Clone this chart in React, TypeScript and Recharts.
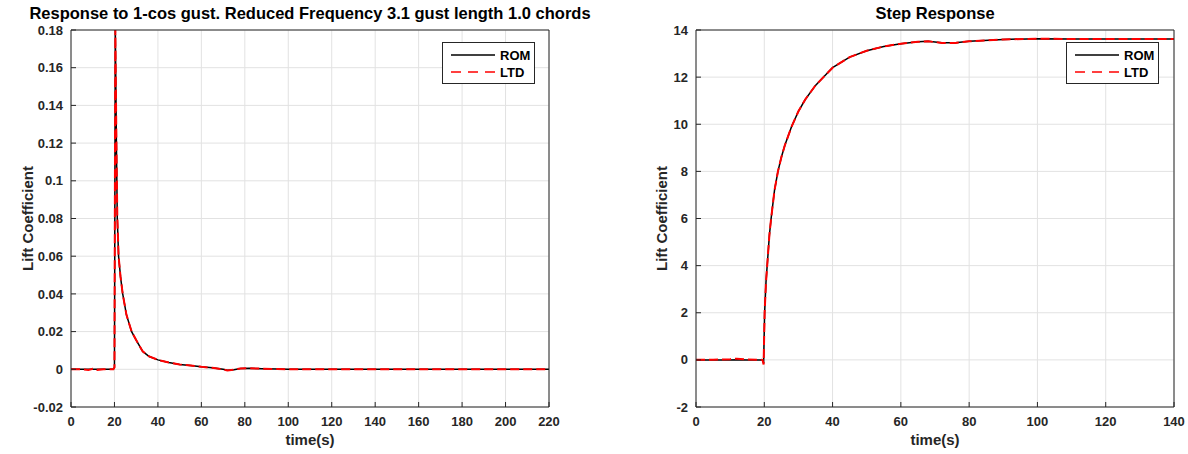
import React from "react";
import { LineChart, Line, XAxis, YAxis, CartesianGrid, Legend } from "recharts";

// gust response (left panel)
const gustTime = [0, 5, 8, 10, 12, 15, 19.5, 20, 20.4, 20.9, 21.3, 21.9, 22.8, 23.8, 25.5, 27.9, 30, 33, 36, 40, 45, 50, 55, 60, 65, 70, 72, 75, 78, 82, 88, 95, 100, 220];
const gustRom = [0, 0, 0, 0, 0, 0, 0, 0.001, 0.18, 0.12, 0.08, 0.06, 0.049, 0.04, 0.029, 0.02, 0.0155, 0.0095, 0.0068, 0.005, 0.0036, 0.0026, 0.002, 0.0013, 0.0008, 0, -0.0005, -0.0002, 0.0004, 0.0006, 0.0003, 0.0001, 0, 0];
const gustLtd = [0, 0, -0.0004, 0.0003, -0.0003, 0, 0, 0.001, 0.18, 0.12, 0.082, 0.06, 0.049, 0.04, 0.029, 0.02, 0.0155, 0.0095, 0.0068, 0.005, 0.0036, 0.0026, 0.002, 0.0013, 0.0008, -0.0001, -0.0006, -0.0002, 0.0004, 0.0006, 0.0003, 0.0001, 0, 0];
const gustXTicks = [0, 20, 40, 60, 80, 100, 120, 140, 160, 180, 200, 220];
const gustYTicks = [-0.02, 0, 0.02, 0.04, 0.06, 0.08, 0.1, 0.12, 0.14, 0.16, 0.18];

// step response (right panel)
const stepTime = [0, 5, 10, 12, 15, 19.5, 19.8, 20.1, 20.5, 21, 21.5, 22, 23, 24, 25, 26, 28, 30, 32, 35, 38, 40, 45, 50, 55, 60, 65, 68, 72, 76, 80, 90, 100, 110, 120, 140];
const stepRom = [0, 0, 0, 0.01, 0, 0, -0.15, 2.0, 3.3, 4.3, 5.3, 6.0, 7.2, 8.0, 8.6, 9.1, 9.9, 10.55, 11.05, 11.65, 12.1, 12.4, 12.85, 13.12, 13.3, 13.42, 13.5, 13.52, 13.46, 13.46, 13.52, 13.6, 13.63, 13.62, 13.62, 13.62];
const stepLtd = [0, 0.01, 0.03, 0.05, 0.02, 0, -0.2, 2.0, 3.3, 4.3, 5.3, 6.0, 7.2, 8.0, 8.6, 9.1, 9.9, 10.55, 11.05, 11.65, 12.1, 12.4, 12.85, 13.12, 13.3, 13.42, 13.5, 13.52, 13.45, 13.45, 13.52, 13.6, 13.63, 13.62, 13.62, 13.62];
const stepXTicks = [0, 20, 40, 60, 80, 100, 120, 140];
const stepYTicks = [-2, 0, 2, 4, 6, 8, 10, 12, 14];

const seriesNames = ["ROM", "LTD"];

const FONT = '"Liberation Sans", Arial, Helvetica, sans-serif';
const INK = "#262626";
const GRID = "#e2e2e2";
const DASH = "9 4";

const fmt = (v: number) => String(Number(v.toFixed(2)));

const LegendBox = () => (
  <svg width={93} height={42} style={{ display: "block" }}>
    <rect x={0.5} y={0.5} width={92} height={41} fill="#fff" stroke={INK} />
    <line x1={9} x2={53} y1={13} y2={13} stroke="#000" strokeWidth={1.5} />
    <line x1={9} x2={53} y1={30} y2={30} stroke="#ff0000" strokeWidth={1.5} strokeDasharray="10 7" />
    <text x={58} y={13} dy="0.36em" fontFamily={FONT} fontWeight="bold" fontSize={13} fill="#000">
      {seriesNames[0]}
    </text>
    <text x={58} y={30} dy="0.36em" fontFamily={FONT} fontWeight="bold" fontSize={13} fill="#000">
      {seriesNames[1]}
    </text>
  </svg>
);

type PanelProps = {
  time: number[];
  rom: number[];
  ltd: number[];
  xTicks: number[];
  yTicks: number[];
  title: string;
  yAxisWidth: number;
  marginRight: number;
  labelDx: number;
  legendLeft: number;
};

const Panel: React.FC<PanelProps> = ({ time, rom, ltd, xTicks, yTicks, title, yAxisWidth, marginRight, labelDx, legendLeft }) => {
  const data = time.map((t, i) => ({ t, rom: rom[i], ltd: ltd[i] }));
  const xDomain = [xTicks[0], xTicks[xTicks.length - 1]];
  const yDomain = [yTicks[0], yTicks[yTicks.length - 1]];
  const tickStyle = { fill: INK, fontSize: 13, fontWeight: "bold", fontFamily: FONT };
  return (
    <LineChart width={594} height={454} data={data} margin={{ top: 30, right: marginRight, bottom: 0, left: 0 }}>
      <CartesianGrid stroke={GRID} />
      <XAxis
        dataKey="t"
        type="number"
        domain={xDomain}
        ticks={xTicks}
        allowDataOverflow
        height={46}
        stroke={INK}
        tickSize={-5}
        tickMargin={15}
        tick={tickStyle}
        label={{ value: "time(s)", position: "insideBottom", offset: 8, fill: INK, fontSize: 15, fontWeight: "bold", fontFamily: FONT }}
      />
      <XAxis
        xAxisId="top"
        orientation="top"
        dataKey="t"
        type="number"
        domain={xDomain}
        ticks={xTicks}
        allowDataOverflow
        height={1}
        stroke={INK}
        tickSize={-5}
        tick={false}
        label={{ value: title, position: "top", offset: 10, fill: "#000", fontSize: 16.5, fontWeight: "bold", fontFamily: FONT }}
      />
      <YAxis
        type="number"
        domain={yDomain}
        ticks={yTicks}
        allowDataOverflow
        width={yAxisWidth}
        stroke={INK}
        tickSize={-5}
        tickMargin={13}
        tick={tickStyle}
        tickFormatter={fmt}
        label={{ value: "Lift Coefficient", angle: -90, position: "center", dx: labelDx, fill: INK, fontSize: 15, fontWeight: "bold", fontFamily: FONT }}
      />
      <YAxis
        yAxisId="right"
        orientation="right"
        type="number"
        domain={yDomain}
        ticks={yTicks}
        allowDataOverflow
        width={1}
        stroke={INK}
        tickSize={-5}
        tick={false}
      />
      <Legend
        layout="vertical"
        align="center"
        verticalAlign="middle"
        content={() => <LegendBox />}
        wrapperStyle={{ left: legendLeft, top: 43, width: 93, height: 42 }}
      />
      <Line type="linear" dataKey="rom" name={seriesNames[0]} stroke="#000" strokeWidth={1.5} dot={false} isAnimationActive={false} />
      <Line
        type="linear"
        dataKey="ltd"
        name={seriesNames[1]}
        xAxisId="top"
        yAxisId="right"
        stroke="#ff0000"
        strokeWidth={2}
        strokeDasharray={DASH}
        dot={false}
        isAnimationActive={false}
      />
    </LineChart>
  );
};

export default function App() {
  return (
    <div style={{ position: "absolute", left: 0, top: 0, width: 1188, height: 454, background: "#fff", fontFamily: FONT }}>
      <div style={{ position: "absolute", left: 0, top: -1 }}>
        <Panel
          time={gustTime}
          rom={gustRom}
          ltd={gustLtd}
          xTicks={gustXTicks}
          yTicks={gustYTicks}
          title="Response to 1-cos gust. Reduced Frequency 3.1 gust length 1.0 chords"
          yAxisWidth={71}
          marginRight={44}
          labelDx={-7.5}
          legendLeft={442}
        />
      </div>
      <div style={{ position: "absolute", left: 594, top: -1 }}>
        <Panel
          time={stepTime}
          rom={stepRom}
          ltd={stepLtd}
          xTicks={stepXTicks}
          yTicks={stepYTicks}
          title="Step Response"
          yAxisWidth={102}
          marginRight={13}
          labelDx={17}
          legendLeft={472}
        />
      </div>
    </div>
  );
}
